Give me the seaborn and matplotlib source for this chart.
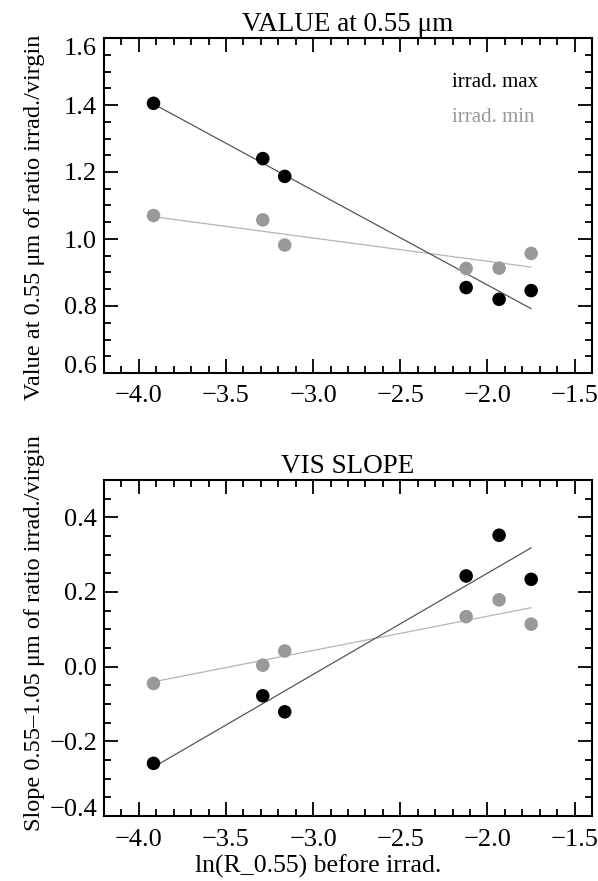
import numpy as np
import pandas as pd
import matplotlib
matplotlib.use("Agg")
import matplotlib.pyplot as plt
import seaborn as sns
from matplotlib.ticker import MultipleLocator, FuncFormatter

# ---- data ----
x_ln = [-3.916, -3.289, -3.163, -2.122, -1.933, -1.749]
value_max = [1.405, 1.240, 1.187, 0.855, 0.820, 0.846]
value_min = [1.070, 1.057, 0.982, 0.912, 0.913, 0.957]
slope_max = [-0.259, -0.078, -0.121, 0.243, 0.352, 0.234]
slope_min = [-0.045, 0.004, 0.042, 0.134, 0.179, 0.114]
series = ["irrad. max", "irrad. min"]

sns.set_theme(style="ticks")
plt.rcParams["font.family"] = ["Liberation Serif", "DejaVu Serif"]
plt.rcParams["text.color"] = "black"
plt.rcParams["axes.labelcolor"] = "black"
plt.rcParams["xtick.color"] = "black"
plt.rcParams["ytick.color"] = "black"

pt_colors = {"irrad. max": "#000000", "irrad. min": "#999999"}
ln_colors = {"irrad. max": "#555555", "irrad. min": "#b5b5b5"}

fmt = FuncFormatter(lambda v, p: f"{v:.1f}".replace("-", "\u2212") if abs(v) > 1e-9 else "0.0")

fig = plt.figure(figsize=(5.98, 8.81), dpi=100)
ax1 = fig.add_axes([104/598, 1-373/881, 488/598, 335/881])
ax2 = fig.add_axes([104/598, 1-816/881, 488/598, 336/881])

TICK_FS = 19
TITLE_FS = 19.5
LAB_FS = 17.5

def panel(ax, ymax, ymin, title, ylabel, ylim, yticks, ylab_y, show_legend):
    df = pd.DataFrame({
        "x": x_ln * 2,
        "y": list(ymax) + list(ymin),
        "series": [series[0]] * len(x_ln) + [series[1]] * len(x_ln),
    })
    for s in series[::-1]:
        sub = df[df["series"] == s]
        sns.regplot(data=sub, x="x", y="y", ax=ax, scatter=False, ci=None,
                    truncate=True, line_kws=dict(color=ln_colors[s], lw=0.9, zorder=2))
    sns.scatterplot(data=df, x="x", y="y", hue="series", palette=pt_colors,
                    hue_order=series[::-1], s=95, edgecolor="none", ax=ax,
                    legend=False, zorder=3)
    ax.set_xlim(-4.2, -1.4)
    ax.set_ylim(*ylim)
    ax.xaxis.set_major_locator(MultipleLocator(0.5))
    ax.xaxis.set_minor_locator(MultipleLocator(0.1))
    ax.set_yticks(yticks)
    ax.yaxis.set_minor_locator(MultipleLocator(0.05))
    ax.yaxis.set_major_formatter(fmt)
    ax.xaxis.set_major_formatter(fmt)
    ax.tick_params(which="both", direction="in", top=True, right=True,
                   labelsize=TICK_FS, width=1.3)
    ax.tick_params(axis="x", pad=9)
    ax.tick_params(axis="y", pad=5)
    ax.tick_params(which="major", length=10)
    ax.tick_params(which="minor", length=5)
    for sp in ax.spines.values():
        sp.set_linewidth(1.5)
        sp.set_color("black")
    ax.set_title(title, fontsize=TITLE_FS, pad=5)
    ax.set_ylabel(ylabel, fontsize=LAB_FS)
    ax.yaxis.set_label_coords(-0.121, ylab_y)
    ax.set_xlabel("")
    # IDL-like: keep end labels inside the axis span
    fig.canvas.draw()
    for t, v in zip(ax.get_yticklabels(), ax.get_yticks()):
        if abs(v - ylim[0]) < 1e-9:
            t.set_va("baseline")
        elif abs(v - ylim[1]) < 1e-9:
            t.set_va("top")
    if show_legend:
        ax.text(0.713, 0.866, series[0], transform=ax.transAxes, fontsize=15,
                color=pt_colors[series[0]], va="center", ha="left")
        ax.text(0.713, 0.764, series[1], transform=ax.transAxes, fontsize=15,
                color=pt_colors[series[1]], va="center", ha="left")

panel(ax1, value_max, value_min, "VALUE at 0.55 μm",
      "Value at 0.55 μm of ratio irrad./virgin", (0.6, 1.6),
      [0.6, 0.8, 1.0, 1.2, 1.4, 1.6], 0.465, True)
panel(ax2, slope_max, slope_min, "VIS SLOPE",
      "Slope 0.55\u20131.05 μm of ratio irrad./virgin", (-0.4, 0.5),
      [-0.4, -0.2, 0.0, 0.2, 0.4], 0.545, False)
ax2.set_xlabel("ln(R_0.55) before irrad.", fontsize=18.5)
ax2.xaxis.set_label_coords(0.438, -0.114)

fig.savefig("out.png", dpi=100)
